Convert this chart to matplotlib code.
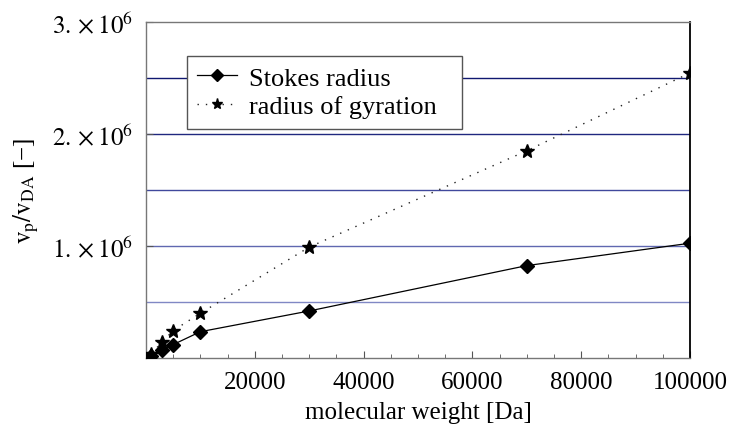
import matplotlib
matplotlib.use("Agg")
import matplotlib.pyplot as plt
from matplotlib.ticker import MultipleLocator, FixedLocator

plt.rcParams["font.family"] = ["Liberation Serif", "DejaVu Serif"]
plt.rcParams["mathtext.fontset"] = "stix"

# data
mol_weight = [1000, 3000, 5000, 10000, 30000, 70000, 100000]
stokes = [0.02e6, 0.075e6, 0.12e6, 0.235e6, 0.42e6, 0.825e6, 1.025e6]
gyration = [0.04e6, 0.145e6, 0.245e6, 0.40e6, 0.99e6, 1.85e6, 2.545e6]

grid_levels = [0.5e6, 1.0e6, 1.5e6, 2.0e6, 2.5e6]
grid_colors = ["#8088c4", "#6068b0", "#40489c", "#20287f", "#101870"]
ytick_vals = [1e6, 2e6, 3e6]
ytick_labels = [r"$1.\times10^{6}$", r"$2.\times10^{6}$", r"$3.\times10^{6}$"]

fig = plt.figure(figsize=(7.34, 4.39), dpi=100)
ax = fig.add_axes([0.1989, 0.1822, 0.7411, 0.7654])

for lvl, col in zip(grid_levels, grid_colors):
    ax.axhline(lvl, color=col, lw=1.0, zorder=1)

ax.plot(mol_weight, stokes, color="black", lw=0.9, marker="D", ms=7.5,
        label="Stokes radius", zorder=3)
ax.plot(mol_weight, gyration, color="#222222", lw=1.0, ls=(0, (1, 5)),
        marker="*", ms=10, mfc="black", mec="black", label="radius of gyration", zorder=3)

ax.set_xlim(0, 100000)
ax.set_ylim(0, 3e6)
ax.xaxis.set_major_locator(MultipleLocator(20000))
ax.xaxis.set_minor_locator(MultipleLocator(5000))
ax.set_xticks([20000, 40000, 60000, 80000, 100000])
ax.yaxis.set_major_locator(FixedLocator(ytick_vals))
ax.set_yticklabels(ytick_labels)
ax.tick_params(axis="both", which="both", direction="in", labelsize=18,
               top=False, right=False, color="#555555")
ax.tick_params(axis="both", which="major", length=5, pad=9)
ax.tick_params(axis="x", which="minor", length=3)

for side in ["left", "bottom", "top"]:
    ax.spines[side].set_color("#777777")
    ax.spines[side].set_linewidth(1.0)
ax.spines["right"].set_color("black")
ax.spines["right"].set_linewidth(1.3)

ax.set_xlabel("molecular weight [Da]", fontsize=18, labelpad=6)
ax.set_ylabel(r"$\mathrm{v_p/v_{DA}}$ [−]", fontsize=18, labelpad=8)

leg = ax.legend(loc="upper left", bbox_to_anchor=(0.075, 0.9, 0.5055, 0.0),
                mode="expand", borderaxespad=0,
                fontsize=19, fancybox=False, framealpha=1, edgecolor="#555555",
                handlelength=1.5, handletextpad=0.45, borderpad=0.4,
                labelspacing=0.2, markerscale=0.8)
leg.get_frame().set_linewidth(1.0)

fig.savefig("out.png", dpi=100)
